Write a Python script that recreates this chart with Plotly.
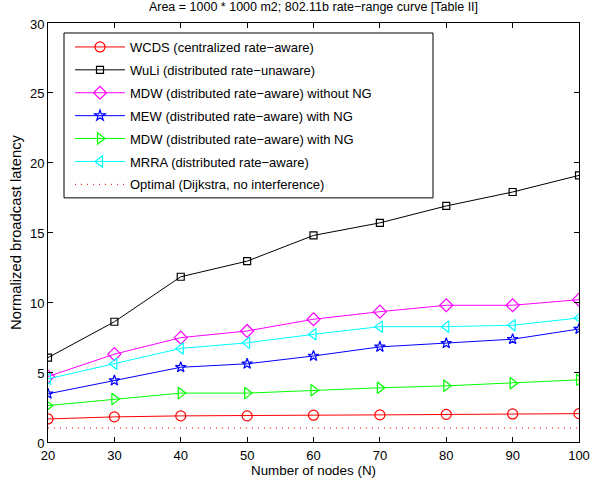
import plotly.graph_objects as go

nodes = [20, 30, 40, 50, 60, 70, 80, 90, 100]

wcds = [1.65, 1.80, 1.87, 1.87, 1.92, 1.94, 1.98, 2.01, 2.03]
wuli = [6.04, 8.61, 11.83, 12.95, 14.79, 15.69, 16.90, 17.90, 19.09]
mdw_no_ng = [4.69, 6.29, 7.47, 7.95, 8.79, 9.33, 9.79, 9.79, 10.19]
mew_ng = [3.45, 4.40, 5.35, 5.60, 6.16, 6.81, 7.07, 7.36, 8.09]
mdw_ng = [2.61, 3.07, 3.50, 3.50, 3.71, 3.88, 4.02, 4.21, 4.45]
mrra = [4.52, 5.60, 6.70, 7.10, 7.71, 8.26, 8.26, 8.36, 8.88]
optimal = [1.0, 1.0, 1.0, 1.0, 1.0, 1.0, 1.0, 1.0, 1.0]

names = [
    "WCDS (centralized rate−aware)",
    "WuLi (distributed rate−unaware)",
    "MDW (distributed rate−aware) without NG",
    "MEW (distributed rate−aware) with NG",
    "MDW (distributed rate−aware) with NG",
    "MRRA (distributed rate−aware)",
    "Optimal (Dijkstra, no interference)",
]
series = [wcds, wuli, mdw_no_ng, mew_ng, mdw_ng, mrra, optimal]
colors = ["#ff0000", "#000000", "#ff00ff", "#0000ff", "#00ff00", "#00ffff", "#ff0000"]
symbols = ["circle-open", "square-open", "diamond-open", "star-open",
           "triangle-right-open", "triangle-left-open", None]
msizes = [10, 7, 10, 8, 10, 10, 0]

fig = go.Figure()
for i, (nm, ys, c, s, ms) in enumerate(zip(names, series, colors, symbols, msizes)):
    if s is None:
        fig.add_trace(go.Scatter(
            x=nodes, y=ys, name=nm, mode="lines", legendgroup=f"g{i}",
            line=dict(color=c, width=1, dash="1px,5px"),
        ))
    else:
        fig.add_trace(go.Scatter(
            x=nodes, y=ys, name=nm, mode="lines+markers", legendgroup=f"g{i}",
            line=dict(color=c, width=1),
            marker=dict(symbol=s, size=ms, color=c, line=dict(color=c, width=1.2)),
        ))

font = "Liberation Sans, Arial, Helvetica, sans-serif"

# plot area in pixels: x 48..579, y 23..442.3
def px_x(p):
    return (p - 48) / 531.0

def px_y(p):
    return (442.3 - p) / 419.3

fig.update_layout(
    width=590, height=483,
    margin=dict(l=48, r=11, t=23, b=41),
    paper_bgcolor="white", plot_bgcolor="white",
    font=dict(family=font, size=13, color="#000000"),
    title=dict(text="Area = 1000 * 1000 m2; 802.11b rate−range curve [Table II]",
               x=0.5, xref="paper", xanchor="center",
               y=1 - 2 / 483, yref="container", yanchor="top",
               font=dict(family=font, size=12.5, color="#000000")),
    showlegend=True,
    legend=dict(x=px_x(70), y=px_y(32), xanchor="left", yanchor="top",
                bgcolor="rgba(0,0,0,0)", borderwidth=0,
                traceorder="grouped", tracegroupgap=3, itemwidth=50,
                font=dict(family=font, size=13, color="#000000")),
    shapes=[dict(type="rect", xref="paper", yref="paper",
                 x0=px_x(64), x1=px_x(433), y0=px_y(198), y1=px_y(33),
                 line=dict(color="black", width=1), fillcolor="white",
                 layer="above")],
)
fig.update_xaxes(
    range=[20, 100], dtick=10, tick0=20, automargin=False,
    showline=True, linecolor="black", linewidth=1, mirror="allticks",
    ticks="inside", ticklen=5, tickcolor="black",
    showgrid=False, zeroline=False, ticklabelstandoff=1,
    tickfont=dict(family=font, size=13),
    title=dict(text="Number of nodes (N)", standoff=0,
               font=dict(family=font, size=13.4)),
)
fig.update_yaxes(
    range=[0, 30], dtick=5, tick0=0, automargin=False,
    showline=True, linecolor="black", linewidth=1, mirror="allticks",
    ticks="inside", ticklen=5, tickcolor="black",
    showgrid=False, zeroline=False, ticklabelshift=1,
    tickfont=dict(family=font, size=13),
    title=dict(text="Normalized broadcast latency", standoff=4,
               font=dict(family=font, size=14.8)),
)

fig.write_html("out.html",
               config={"displayModeBar": False},
               post_script="document.body.style.margin='0';document.body.style.padding='0';")
